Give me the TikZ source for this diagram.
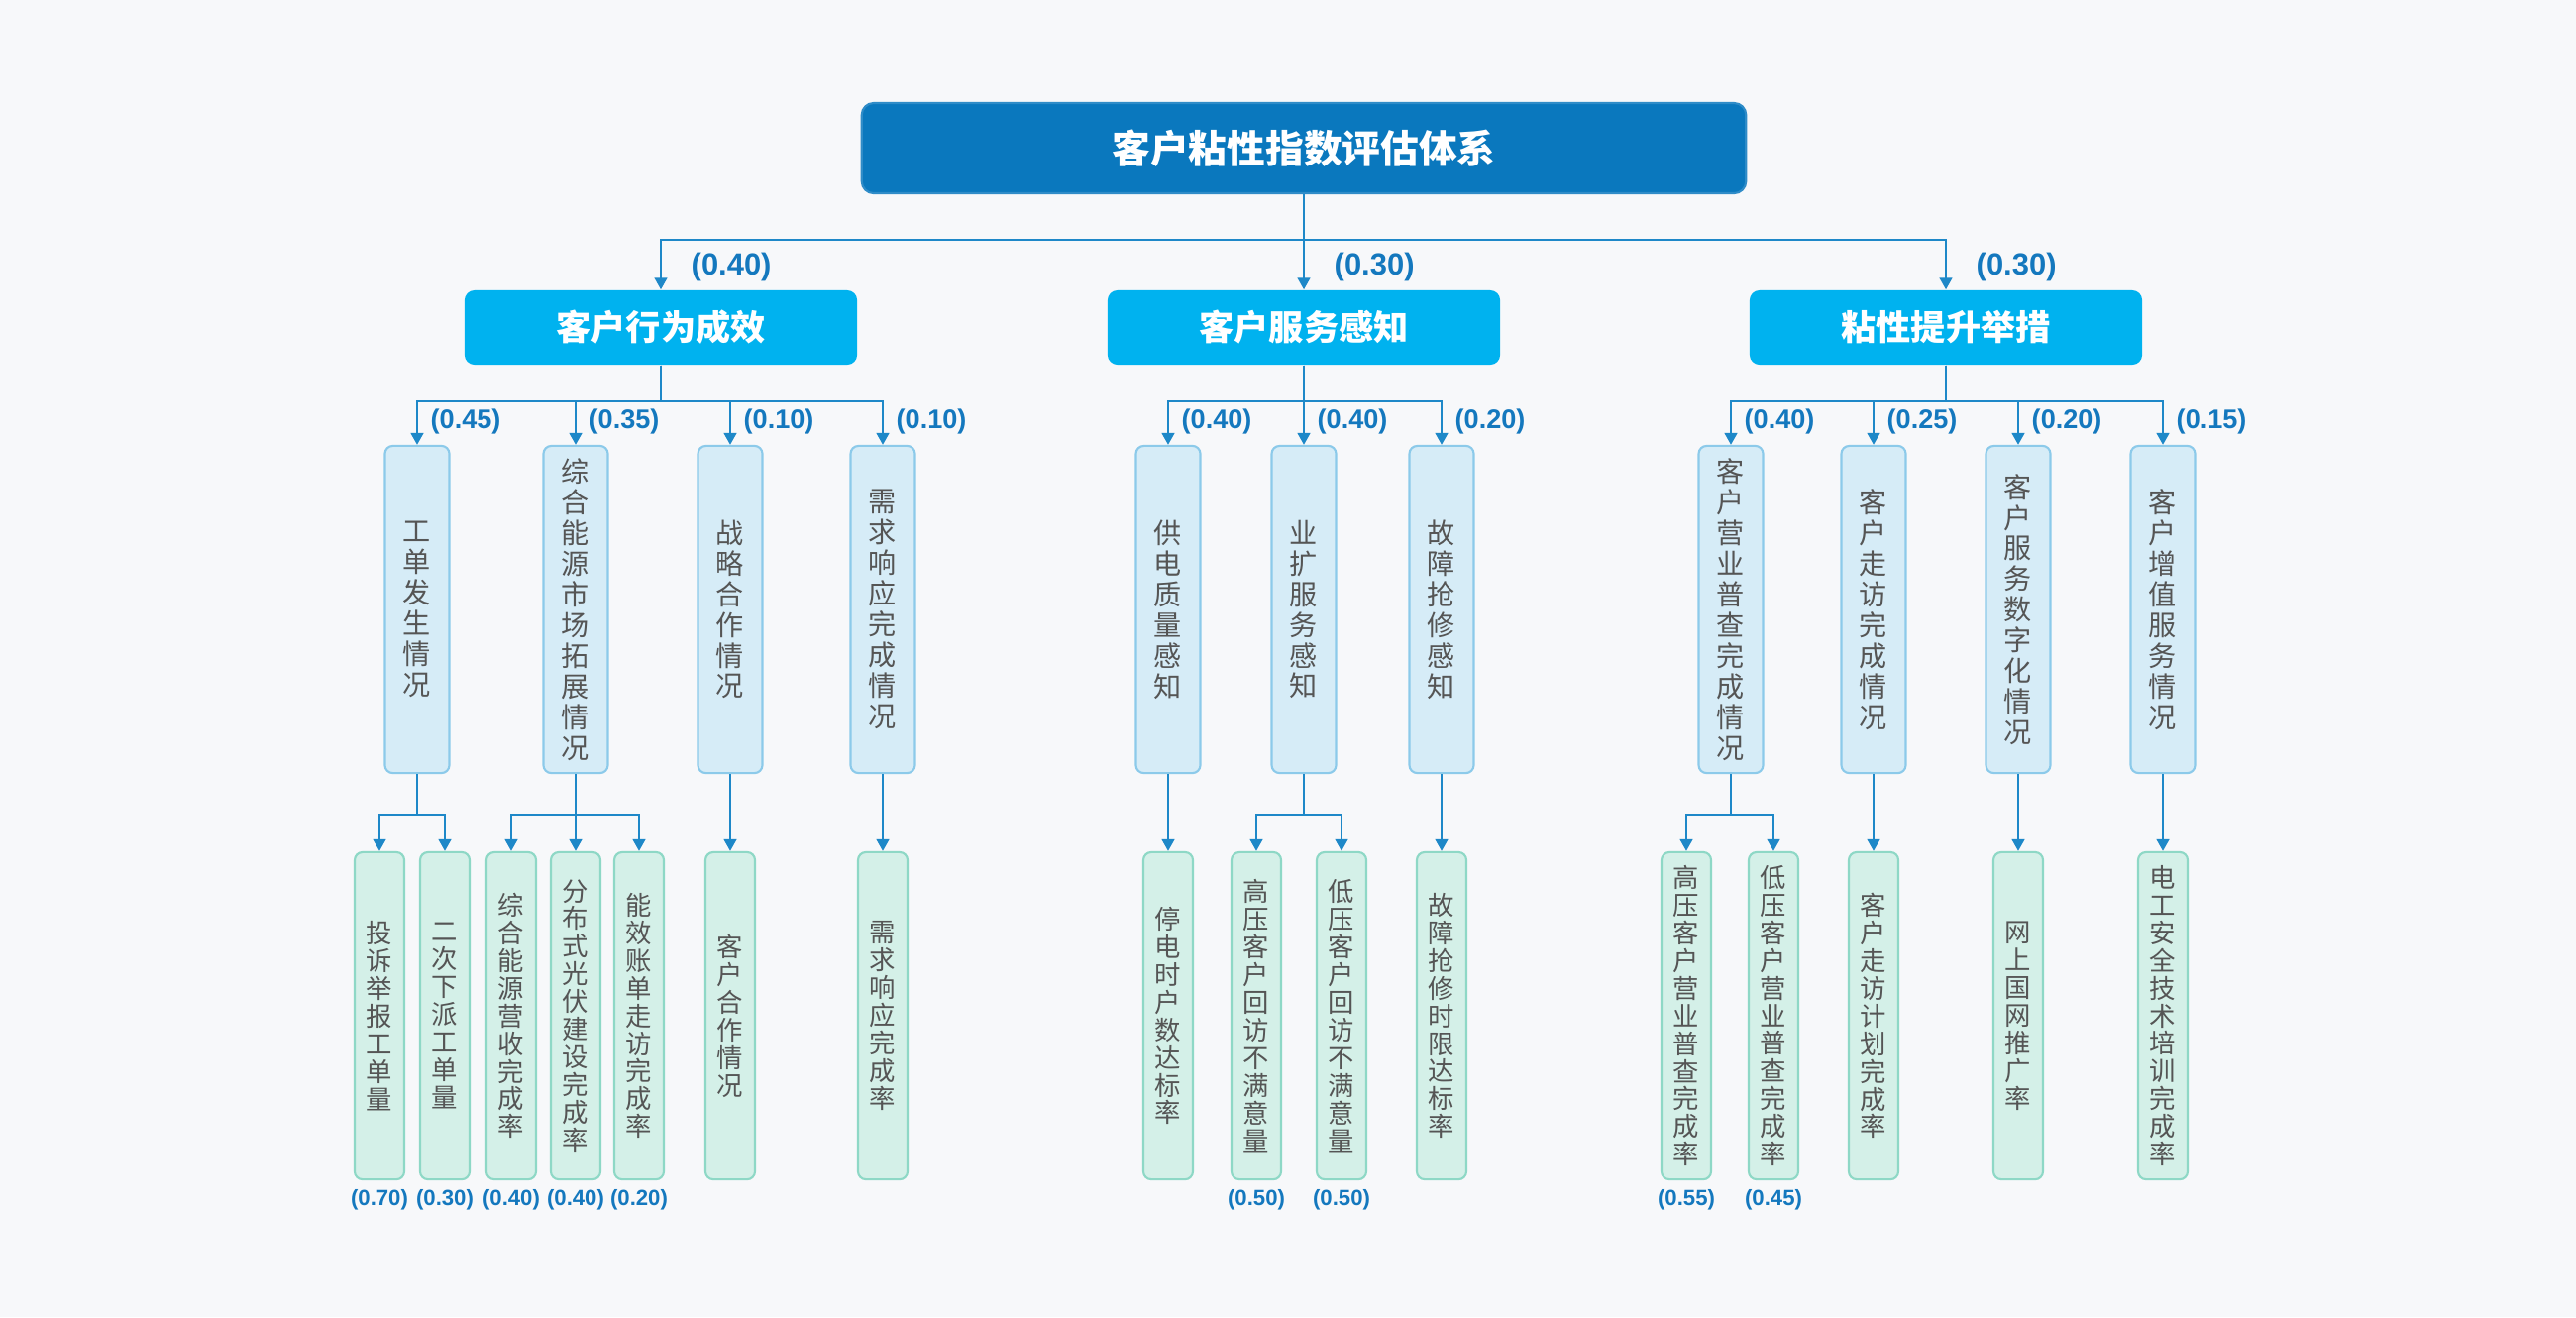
\documentclass[tikz,border=0pt]{standalone}
\usepackage{fontspec}
\newfontfamily\cjk{Noto Sans CJK SC}
\newfontfamily\lat{Liberation Sans}
\usetikzlibrary{arrows.meta,calc}
\definecolor{topblue}{HTML}{0A78BE}
\definecolor{midblue}{HTML}{00B2EF}
\definecolor{linec}{HTML}{1E88C8}
\definecolor{labc}{HTML}{1478BE}
\definecolor{lthfill}{HTML}{D6ECF7}
\definecolor{lthdraw}{HTML}{8CCAEA}
\definecolor{lffill}{HTML}{D4F0E8}
\definecolor{lfdraw}{HTML}{8ED8C6}
\definecolor{txtg}{HTML}{555555}
\definecolor{bgc}{HTML}{F7F8FA}
\begin{document}
\begin{tikzpicture}[x=0.01cm,y=-0.01cm,
  rootbox/.style={fill=topblue, draw=topblue!85!white, line width=0.6pt, rounded corners=0.12cm,
    minimum width=8.92cm, minimum height=0.91cm, inner sep=0, text=white,
    font=\cjk\bfseries\fontsize{11}{13}\selectfont},
  midbox/.style={fill=midblue, rounded corners=0.1cm, minimum width=3.96cm, minimum height=0.75cm,
    inner sep=0, text=white, font=\cjk\bfseries\fontsize{10}{12}\selectfont},
  thbox/.style={fill=lthfill, draw=lthdraw, line width=0.6pt, rounded corners=0.08cm,
    minimum width=0.65cm, minimum height=3.3cm, inner sep=0, align=center, text=txtg,
    font=\cjk\fontsize{8}{8.8}\selectfont},
  fobox/.style={fill=lffill, draw=lfdraw, line width=0.6pt, rounded corners=0.08cm,
    minimum width=0.5cm, minimum height=3.3cm, inner sep=0, align=center, text=txtg,
    font=\cjk\fontsize{7.5}{7.95}\selectfont},
  conn/.style={draw=linec, line width=0.7pt},
  arr/.style={conn, -{Triangle[width=3.6pt,length=3.4pt]}},
  wone/.style={font=\lat\bfseries\fontsize{8.8}{10}\selectfont, text=labc, anchor=west, inner sep=0},
  wtwo/.style={font=\lat\bfseries\fontsize{7.7}{9}\selectfont, text=labc, anchor=west, inner sep=0},
  wthree/.style={font=\lat\bfseries\fontsize{6.3}{7}\selectfont, text=labc, inner sep=0}
]
\fill[bgc] (0,0) rectangle (2600,1329);
\useasboundingbox (0,0) rectangle (2600,1329);

% root and level 2
\node[rootbox] (root) at (1316,149.5) {客户粘性指数评估体系};
\node[midbox] (m1) at (667,330.5) {客户行为成效};
\node[midbox] (m2) at (1316,330.5) {客户服务感知};
\node[midbox] (m3) at (1964,330.5) {粘性提升举措};

\foreach \c in {m1,m2,m3}{
  \draw[arr] (root.south) -- ++(0,46) -| (\c.north);
}
\node[wone] (w1) at ($(m1.north)+(30,-23)$) {(0.40)};
\node[wone] (w2) at ($(m2.north)+(30,-23)$) {(0.30)};
\node[wone] (w3) at ($(m3.north)+(30,-23)$) {(0.30)};

% level 3
\node[thbox] (a1) at (421,615) {工\\单\\发\\生\\情\\况};
\node[thbox] (a2) at (581,615) {综\\合\\能\\源\\市\\场\\拓\\展\\情\\况};
\node[thbox] (a3) at (737,615) {战\\略\\合\\作\\情\\况};
\node[thbox] (a4) at (891,615) {需\\求\\响\\应\\完\\成\\情\\况};
\node[thbox] (b1) at (1179,615) {供\\电\\质\\量\\感\\知};
\node[thbox] (b2) at (1316,615) {业\\扩\\服\\务\\感\\知};
\node[thbox] (b3) at (1455,615) {故\\障\\抢\\修\\感\\知};
\node[thbox] (c1) at (1747,615) {客\\户\\营\\业\\普\\查\\完\\成\\情\\况};
\node[thbox] (c2) at (1891,615) {客\\户\\走\\访\\完\\成\\情\\况};
\node[thbox] (c3) at (2037,615) {客\\户\\服\\务\\数\\字\\化\\情\\况};
\node[thbox] (c4) at (2183,615) {客\\户\\增\\值\\服\\务\\情\\况};

\foreach \c in {a1,a2,a3,a4}{ \draw[arr] (m1.south) -- ++(0,36) -| (\c.north); }
\foreach \c in {b1,b2,b3}{ \draw[arr] (m2.south) -- ++(0,36) -| (\c.north); }
\foreach \c in {c1,c2,c3,c4}{ \draw[arr] (m3.south) -- ++(0,36) -| (\c.north); }

\foreach \c/\v in {a1/0.45,a2/0.35,a3/0.10,a4/0.10,b1/0.40,b2/0.40,b3/0.20,c1/0.40,c2/0.25,c3/0.20,c4/0.15}{
  \node[wtwo] (w\c) at ($(\c.north)+(13,-23)$) {(\v)};
}

% level 4
\node[fobox] (a1x) at (383,1025) {投\\诉\\举\\报\\工\\单\\量};
\node[fobox] (a1y) at (449,1025) {二\\次\\下\\派\\工\\单\\量};
\node[fobox] (a2x) at (516,1025) {综\\合\\能\\源\\营\\收\\完\\成\\率};
\node[fobox] (a2y) at (581,1025) {分\\布\\式\\光\\伏\\建\\设\\完\\成\\率};
\node[fobox] (a2z) at (645,1025) {能\\效\\账\\单\\走\\访\\完\\成\\率};
\node[fobox] (a3x) at (737,1025) {客\\户\\合\\作\\情\\况};
\node[fobox] (a4x) at (891,1025) {需\\求\\响\\应\\完\\成\\率};
\node[fobox] (b1x) at (1179,1025) {停\\电\\时\\户\\数\\达\\标\\率};
\node[fobox] (b2x) at (1268,1025) {高\\压\\客\\户\\回\\访\\不\\满\\意\\量};
\node[fobox] (b2y) at (1354,1025) {低\\压\\客\\户\\回\\访\\不\\满\\意\\量};
\node[fobox] (b3x) at (1455,1025) {故\\障\\抢\\修\\时\\限\\达\\标\\率};
\node[fobox] (c1x) at (1702,1025) {高\\压\\客\\户\\营\\业\\普\\查\\完\\成\\率};
\node[fobox] (c1y) at (1790,1025) {低\\压\\客\\户\\营\\业\\普\\查\\完\\成\\率};
\node[fobox] (c2x) at (1891,1025) {客\\户\\走\\访\\计\\划\\完\\成\\率};
\node[fobox] (c3x) at (2037,1025) {网\\上\\国\\网\\推\\广\\率};
\node[fobox] (c4x) at (2183,1025) {电\\工\\安\\全\\技\\术\\培\\训\\完\\成\\率};

\foreach \p/\c in {a1/a1x,a1/a1y,a2/a2x,a2/a2y,a2/a2z,b2/b2x,b2/b2y,c1/c1x,c1/c1y}{
  \draw[arr] (\p.south) -- ++(0,41) -| (\c.north);
}
\foreach \p/\c in {a3/a3x,a4/a4x,b1/b1x,b3/b3x,c2/c2x,c3/c3x,c4/c4x}{
  \draw[arr] (\p.south) -- (\c.north);
}

\foreach \c/\v in {a1x/0.70,a1y/0.30,a2x/0.40,a2y/0.40,a2z/0.20,b2x/0.50,b2y/0.50,c1x/0.55,c1y/0.45}{
  \node[wthree] (w\c) at ($(\c.south)+(0,20)$) {(\v)};
}
\end{tikzpicture}
\end{document}
